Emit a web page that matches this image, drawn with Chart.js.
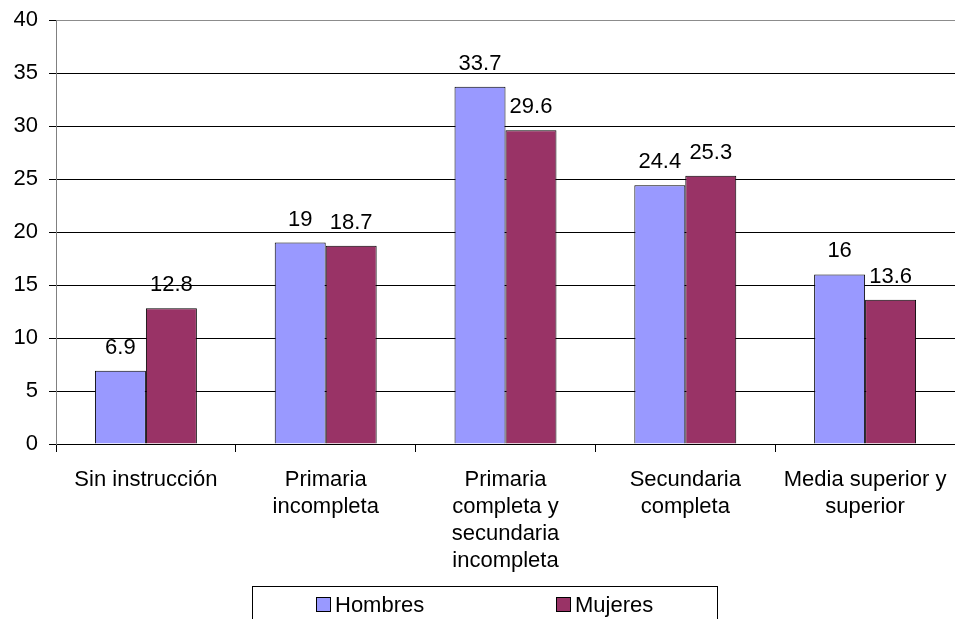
<!DOCTYPE html>
<html>
<head>
<meta charset="utf-8">
<script src="https://cdn.jsdelivr.net/npm/chart.js@4/dist/chart.umd.min.js"></script>
<style>
  html, body { margin: 0; padding: 0; background: #fff; overflow: hidden; }
  #wrap { width: 955px; height: 619px; }
</style>
</head>
<body>
<div id="wrap"><canvas id="c" width="955" height="619"></canvas></div>
<script>
// Nivel de instrucción por sexo (%)
const categories = [
  'Sin instrucción',
  ['Primaria', 'incompleta'],
  ['Primaria', 'completa y', 'secundaria', 'incompleta'],
  ['Secundaria', 'completa'],
  ['Media superior y', 'superior']
];
const hombres = [6.9, 19, 33.7, 24.4, 16];
const mujeres = [12.8, 18.7, 29.6, 25.3, 13.6];
const seriesNames = ['Hombres', 'Mujeres'];
const yTicks = [0, 5, 10, 15, 20, 25, 30, 35, 40];

const FONT = '"Liberation Sans", Arial, sans-serif';
const FONT_SIZE = 22;

// Value labels above each bar
const valueLabels = {
  id: 'valueLabels',
  afterDatasetsDraw(chart) {
    const ctx = chart.ctx;
    ctx.save();
    ctx.font = FONT_SIZE + 'px ' + FONT;
    ctx.fillStyle = '#000';
    ctx.textAlign = 'center';
    ctx.textBaseline = 'bottom';
    chart.data.datasets.forEach((ds, i) => {
      chart.getDatasetMeta(i).data.forEach((bar, j) => {
        ctx.fillText(String(ds.data[j]), bar.x, bar.y - 12);
      });
    });
    ctx.restore();
  }
};

// Framed legend along the bottom
const boxedLegend = {
  id: 'boxedLegend',
  afterDraw(chart) {
    const ctx = chart.ctx;
    const left = 252, right = 717, top = 586;
    ctx.save();
    ctx.strokeStyle = '#000';
    ctx.lineWidth = 1;
    ctx.strokeRect(left + 0.5, top + 0.5, right - left, chart.height - top + 10);
    ctx.font = FONT_SIZE + 'px ' + FONT;
    ctx.textBaseline = 'middle';
    ctx.textAlign = 'left';
    const starts = [316, 556];
    chart.data.datasets.forEach((ds, i) => {
      const x = starts[i], cy = 605;
      ctx.fillStyle = ds.backgroundColor;
      ctx.fillRect(x + 0.5, cy - 7.5, 14, 14);
      ctx.strokeStyle = '#000';
      ctx.strokeRect(x + 0.5, cy - 7.5, 14, 14);
      ctx.fillStyle = '#000';
      ctx.fillText(ds.label, x + 19, cy + 1);
    });
    ctx.restore();
  }
};

new Chart(document.getElementById('c'), {
  type: 'bar',
  data: {
    labels: categories,
    datasets: [
      { label: seriesNames[0], data: hombres, backgroundColor: '#9999FF', borderColor: '#000', borderWidth: 1 },
      { label: seriesNames[1], data: mujeres, backgroundColor: '#993366', borderColor: '#000', borderWidth: 1 }
    ]
  },
  options: {
    responsive: false,
    animation: false,
    devicePixelRatio: 1,
    layout: { padding: { top: 20, right: 0, bottom: 33, left: 0 } },
    datasets: { bar: { categoryPercentage: 0.567, barPercentage: 1.0 } },
    plugins: {
      legend: { display: false },
      tooltip: { enabled: false }
    },
    scales: {
      x: {
        offset: true,
        grid: {
          offset: true,
          drawOnChartArea: false,
          drawTicks: true,
          tickLength: 8,
          color: '#000',
          tickColor: '#000'
        },
        border: { display: true, color: '#000', width: 1 },
        ticks: {
          color: '#000',
          font: { family: FONT, size: FONT_SIZE, lineHeight: 27 / FONT_SIZE },
          padding: 14,
          maxRotation: 0,
          autoSkip: false
        },
        afterFit(scale) {
          scale.height = 142;
          scale.paddingLeft = 0;
          scale.paddingRight = 0;
        }
      },
      y: {
        min: 0,
        max: 40,
        afterBuildTicks(scale) { scale.ticks = yTicks.map(v => ({ value: v })); },
        grid: {
          color: ctx => (ctx.tick && ctx.tick.value === 40) ? '#8c8c8c' : '#000',
          tickColor: '#000',
          tickLength: 7,
          lineWidth: 1
        },
        border: { display: true, color: '#808080', width: 1 },
        ticks: {
          color: '#000',
          font: { family: FONT, size: FONT_SIZE },
          padding: 11
        },
        afterFit(scale) {
          scale.width = 56;
          scale.paddingTop = 0;
          scale.paddingBottom = 0;
        }
      }
    }
  },
  plugins: [valueLabels, boxedLegend]
});
</script>
</body>
</html>
